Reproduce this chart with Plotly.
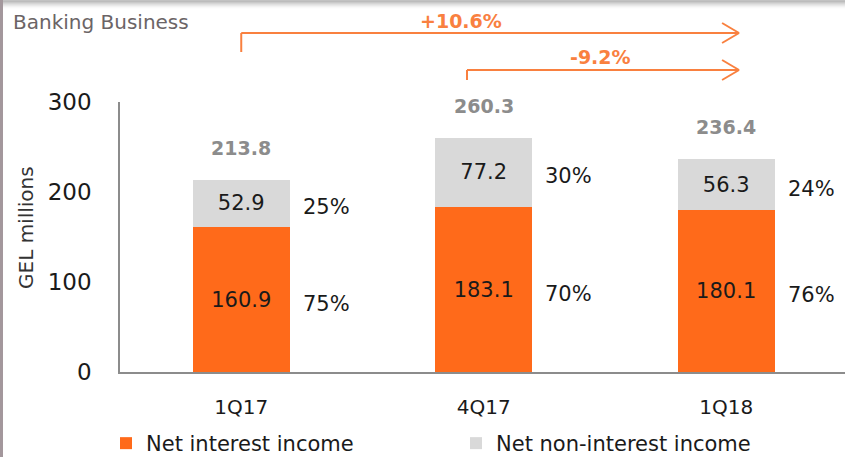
import plotly.graph_objects as go

categories = ["1Q17", "4Q17", "1Q18"]
net_interest = [160.9, 183.1, 180.1]
net_non_interest = [52.9, 77.2, 56.3]
totals = [213.8, 260.3, 236.4]
pct_interest = ["75%", "70%", "76%"]
pct_non_interest = ["25%", "30%", "24%"]
growth_labels = ["+10.6%", "-9.2%"]
y_ticks = [0, 100, 200, 300]

ORANGE = "#FF6A1A"
GREY = "#D9D9D9"
ARROW = "#F9803F"
FONT = "DejaVu Sans"

W, H = 845, 457
ML, MR, MT, MB = 120, 0, 102, 85
PW, PH = W - ML - MR, H - MT - MB


def px2x(p):
    return (p - ML) / PW


def py2y(p):
    return (H - MB - p) / PH


fig = go.Figure()
fig.add_trace(go.Bar(
    x=categories, y=net_interest, name="Net interest income",
    marker=dict(color=ORANGE, line=dict(width=0)), width=0.4,
    text=[f"{v:.1f}" for v in net_interest], textposition="inside",
    insidetextanchor="middle", textangle=0, constraintext="none",
    textfont=dict(family=FONT, size=21, color="#1a1a1a"),
))
fig.add_trace(go.Bar(
    x=categories, y=net_non_interest, name="Net non-interest income",
    marker=dict(color=GREY, line=dict(width=0)), width=0.4,
    text=[f"{v:.1f}" for v in net_non_interest], textposition="inside",
    insidetextanchor="middle", textangle=0, constraintext="none",
    textfont=dict(family=FONT, size=21, color="#1a1a1a"),
))

annotations = []
for i, c in enumerate(categories):
    annotations.append(dict(x=i + 0.245, y=net_interest[i] / 2, xref="x", yref="y",
                            text=pct_interest[i], showarrow=False, xanchor="left",
                            yanchor="middle", yshift=-4,
                            font=dict(family=FONT, size=21, color="#1a1a1a")))
    annotations.append(dict(x=i + 0.245, y=net_interest[i] + net_non_interest[i] / 2,
                            xref="x", yref="y", text=pct_non_interest[i], showarrow=False,
                            xanchor="left", yanchor="middle", yshift=-4,
                            font=dict(family=FONT, size=21, color="#1a1a1a")))
    annotations.append(dict(x=i, y=totals[i], xref="x", yref="y",
                            text=f"<b>{totals[i]:.1f}</b>", showarrow=False,
                            xanchor="center", yanchor="middle", yshift=32,
                            font=dict(family=FONT, size=19, color="#8C8C8C")))

# growth labels
annotations.append(dict(x=0.907, y=py2y(21), xref="x", yref="paper",
                        text=f"<b>{growth_labels[0]}</b>", showarrow=False,
                        xanchor="center", yanchor="middle",
                        font=dict(family=FONT, size=19, color=ARROW)))
annotations.append(dict(x=1.48, y=py2y(57), xref="x", yref="paper",
                        text=f"<b>{growth_labels[1]}</b>", showarrow=False,
                        xanchor="center", yanchor="middle",
                        font=dict(family=FONT, size=19, color=ARROW)))

# title and axis title
annotations.append(dict(x=px2x(11), y=py2y(22), xref="paper", yref="paper",
                        text="Banking Business", showarrow=False, xanchor="left",
                        yanchor="middle", font=dict(family=FONT, size=20, color="#6B6466")))
annotations.append(dict(x=px2x(26), y=py2y(228), xref="paper", yref="paper",
                        text="GEL millions", showarrow=False, textangle=-90,
                        xanchor="center", yanchor="middle",
                        font=dict(family=FONT, size=20, color="#333333")))

shapes = []


def seg(x0, y0, x1, y1, xref="x"):
    shapes.append(dict(type="line", xref=xref, yref="paper", x0=x0, y0=y0, x1=x1, y1=y1,
                       line=dict(color=ARROW, width=2)))


# arrow 1 (1Q17 -> 1Q18)
seg(0.0, py2y(52), 0.0, py2y(33))
seg(0.0, py2y(33), 2.053, py2y(33))
seg(1.983, py2y(23), 2.053, py2y(33))
seg(1.983, py2y(43), 2.053, py2y(33))
# arrow 2 (4Q17 -> 1Q18)
seg(0.931, py2y(80), 0.931, py2y(70))
seg(0.931, py2y(70), 2.053, py2y(70))
seg(1.983, py2y(60), 2.053, py2y(70))
seg(1.983, py2y(80), 2.053, py2y(70))

# top shadow
shade = [0.45, 0.35, 0.27, 0.2, 0.14, 0.09, 0.05, 0.025]
for k, a in enumerate(shade):
    shapes.append(dict(type="rect", xref="paper", yref="paper", x0=px2x(0), x1=px2x(W),
                       y0=py2y(k + 1.5), y1=py2y(k), line=dict(width=0),
                       fillcolor=f"rgba(120,120,120,{a})", layer="above"))
# left border
shapes.append(dict(type="rect", xref="paper", yref="paper", x0=px2x(0), x1=px2x(3),
                   y0=py2y(H), y1=py2y(0), line=dict(width=0), fillcolor="#A3979C"))

fig.update_layout(
    width=W, height=H, barmode="stack",
    margin=dict(l=ML, r=MR, t=MT, b=MB, autoexpand=False),
    paper_bgcolor="white", plot_bgcolor="white",
    font=dict(family=FONT, size=20, color="#1a1a1a"),
    showlegend=True,
    legend=dict(orientation="h", x=px2x(106), y=py2y(423), xanchor="left", yanchor="top",
                font=dict(family=FONT, size=21, color="#1a1a1a"),
                entrywidth=305, entrywidthmode="pixels", itemwidth=30,
                bgcolor="rgba(0,0,0,0)", traceorder="normal"),
    xaxis=dict(range=[-0.5, 2.49], showgrid=False, showline=True, linecolor="#8C8C8C",
               linewidth=1.5, ticks="", tickfont=dict(family=FONT, size=20, color="#1a1a1a"),
               ticklabelstandoff=16, zeroline=False, fixedrange=True),
    yaxis=dict(range=[0, 300], tickvals=y_ticks, showgrid=False, showline=True,
               linecolor="#8C8C8C", linewidth=1.5, ticks="", zeroline=False,
               tickfont=dict(family=FONT, size=23, color="#1a1a1a"),
               ticklabelstandoff=22, fixedrange=True),
    annotations=annotations, shapes=shapes,
)

fig.write_html("out.html", config={"displayModeBar": False},
               post_script="document.body.style.margin='0';document.body.style.padding='0';")
